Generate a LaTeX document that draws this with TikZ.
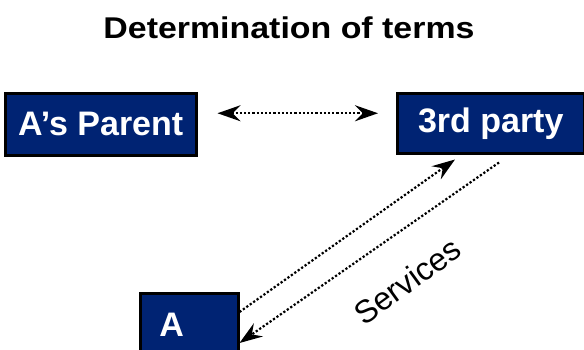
\documentclass[tikz,border=0pt]{standalone}
\usepackage{fontspec}
\setmainfont{Liberation Sans}
\usetikzlibrary{arrows.meta}
\definecolor{navy}{RGB}{0,35,115}
\begin{document}
\begin{tikzpicture}[x=1pt,y=-1pt,
  party/.style={draw=black, line width=2.5pt, fill=navy, text=white,
    font=\fontsize{34}{38}\selectfont\bfseries, inner sep=0pt, anchor=north west},
  link/.style={line width=2.2pt, dash pattern=on 2.2pt off 2pt},
  onehead/.style={link, -{Stealth[length=23pt,width=16pt,inset=8pt]}},
  twoheads/.style={link, {Stealth[length=23pt,width=16pt,inset=8pt]}-{Stealth[length=23pt,width=16pt,inset=8pt]}},
]
\useasboundingbox (0,0) rectangle (584,349);
\clip (0,0) rectangle (584,349);

% title
\node[anchor=base, font=\fontsize{30}{34}\selectfont\bfseries] (title) at (289,38)
  {\scalebox{1.13}[1]{Determination of terms}};

% parties
\node[party, minimum width=191pt, minimum height=62pt] (parent) at (4,92) {A’s Parent};
\node[party, minimum width=187pt, minimum height=60pt] (third) at (396,92) {3rd party};
\node[party, minimum width=98pt, minimum height=64pt, text width=60pt, align=left] (a) at (139,292) {A};

% connectors
\draw[twoheads] ([xshift=20pt,yshift=11pt]parent.east) -- ([xshift=-18pt,yshift=10pt]third.west);
\draw[onehead] ([yshift=-20pt]a.north east) -- ([xshift=59pt,yshift=-5pt]third.south west);
\draw[onehead] ([xshift=103pt,yshift=-8pt]third.south west) -- ([yshift=-51pt]a.north east);

% label
\node[rotate=36, font=\fontsize{32}{36}\selectfont] (services) at (407,281) {Services};
\end{tikzpicture}
\end{document}
